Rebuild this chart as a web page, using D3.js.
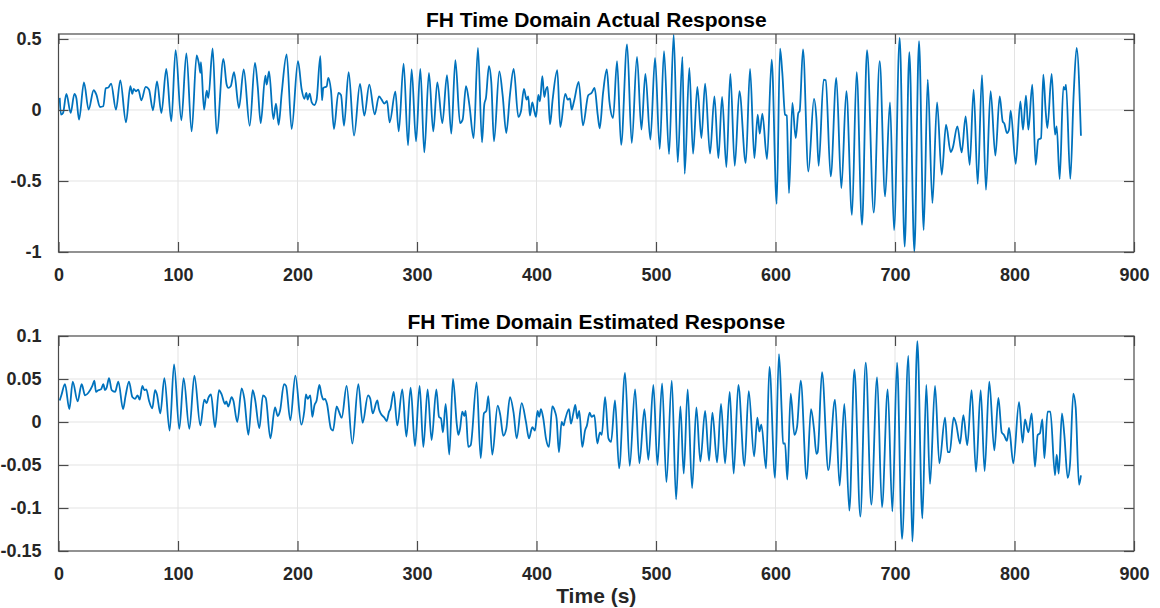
<!DOCTYPE html>
<html><head><meta charset="utf-8">
<script src="https://cdn.jsdelivr.net/npm/d3@7"></script>
<style>html,body{margin:0;padding:0;background:#fff;}svg{display:block;}</style>
</head><body>
<svg id="chart" width="1160" height="608"></svg>
<script>
// ---------- data ----------
const titles = ["FH Time Domain Actual Response", "FH Time Domain Estimated Response"];
const xLabel = "Time (s)";
const xTicks = [0,100,200,300,400,500,600,700,800,900];
const yTicksActual = [0.5,0,-0.5,-1];
const yTicksEstimated = [0.1,0.05,0,-0.05,-0.1,-0.15];
// [time (s), response]
const actual = [
[1.0,0.085],[2.1,-0.033],[3.8,-0.021],[6.6,0.113],[10.2,-0.021],[13.3,0.113],[14.9,0.085],[17.2,-0.068],[21.3,0.195],[25.2,0.002],[29.4,0.139],[31.7,0.108],[34.7,0.021],[37.5,0.026],[39.5,0.153],[41.7,0.158],[44.0,0.186],[48.1,0.002],[51.7,0.209],[56.5,-0.087],[60.1,0.167],[61.8,0.113],[62.9,0.148],[64.9,0.132],[66.8,0.144],[69.3,0.068],[73.0,0.162],[75.7,0.144],[79.1,-0.002],[82.4,0.202],[86.1,-0.021],[90.2,0.289],[94.4,-0.08],[98.0,0.421],[102.8,-0.073],[107.0,0.398],[111.4,-0.151],[115.6,0.384],[117.6,0.32],[118.7,0.261],[119.2,0.336],[121.8,0.002],[124.0,0.136],[125.4,0.085],[129.0,0.433],[132.4,-0.167],[138.0,0.36],[140.7,0.179],[142.1,0.155],[144.1,0.167],[146.9,0.266],
[151.0,0.014],[155.0,0.285],[160.0,-0.111],[164.4,0.332],[166.7,0.167],[169.2,-0.092],[173.1,0.242],[174.2,0.179],[176.2,0.271],[179.8,-0.064],[182.0,0.045],[184.2,-0.104],[186.8,0.12],[190.9,0.391],[195.1,-0.134],[200.4,0.344],[203.5,0.144],[205.7,0.078],[207.4,0.12],[208.5,0.073],[210.2,0.115],[211.9,0.054],[214.1,0.035],[216.0,0.073],[219.1,0.379],[220.5,0.068],[221.6,0.155],[224.4,0.167],[225.8,0.226],[228.0,0.139],[230.5,-0.134],[234.2,0.12],[236.4,0.106],[238.9,-0.111],[242.8,0.266],[247.3,-0.181],[252.3,0.184],[255.9,-0.04],[260.1,0.179],[264.6,-0.031],[268.2,0.096],[270.4,0.073],[272.7,0.045],[274.9,0.064],[277.1,-0.087],[281.9,0.129],[284.7,-0.151],[288.8,0.327],[292.5,-0.249],[295.5,0.285],[299.2,-0.221],
[302.8,0.289],[306.1,-0.299],[310.0,0.261],[313.6,-0.151],[317.0,0.195],[321.2,-0.092],[325.1,0.245],[328.7,-0.167],[332.1,0.351],[336.0,-0.092],[338.2,-0.068],[341.0,0.167],[343.8,0.038],[347.4,-0.198],[351.0,0.438],[354.4,-0.228],[356.3,0.038],[357.7,0.085],[360.2,0.308],[362.2,0.191],[364.4,-0.221],[368.9,0.271],[371.7,0.101],[374.7,-0.162],[377.8,0.108],[380.9,0.289],[384.8,-0.049],[387.0,-0.009],[389.5,0.148],[391.7,0.073],[393.1,0.096],[394.5,-0.04],[396.5,0.054],[398.2,-0.009],[399.6,-0.049],[401.5,0.106],[402.9,0.061],[404.9,0.238],[406.5,0.092],[407.9,0.144],[409.3,0.162],[411.3,-0.101],[413.5,0.073],[417.4,0.28],[419.9,-0.12],[424.1,0.113],[426.1,0.073],[428.0,0.082],[429.4,0.002],[431.4,0.061],[435.3,0.198],[438.9,-0.108],[443.3,0.104],[446.1,0.12],[448.6,0.155],[451.2,-0.033],
[452.9,-0.129],[455.7,0.12],[458.8,0.285],[461.0,0.061],[464.1,-0.056],[467.4,0.344],[470.8,-0.245],[475.8,0.461],[479.7,-0.233],[484.1,0.374],[487.8,-0.139],[491.1,0.254],[495.3,-0.209],[499.2,0.367],[503.1,-0.275],[506.7,0.414],[510.9,-0.311],[514.8,0.53],[518.2,-0.367],[522.1,0.374],[524.0,-0.449],[527.9,0.296],[531.0,-0.308],[534.6,0.162],[538.0,-0.198],[541.1,0.186],[545.2,-0.308],[548.9,0.096],[552.2,-0.339],[555.3,0.092],[558.9,-0.402],[562.2,0.254],[565.9,-0.393],[569.8,0.132],[575.1,-0.374],[578.7,0.289],[582.3,-0.339],[585.1,-0.033],[586.8,-0.167],[589.0,-0.026],[592.9,-0.346],[596.8,0.355],[601.0,-0.661],
[603.8,0.431],[605.7,0.261],[608.0,-0.033],[609.4,-0.04],[611.3,-0.586],[614.1,0.049],[616.9,-0.198],[619.1,-0.021],[620.2,-0.009],[623.0,0.426],[627.5,-0.433],[632.2,0.078],[634.2,-0.056],[636.1,-0.393],[640.3,0.214],[642.0,0.209],[646.2,-0.468],[650.9,0.226],[655.1,-0.551],[659.3,0.132],[664.0,-0.739],[667.9,0.266],[672.4,-0.809],[676.6,0.421],[682.2,-0.722],[687.2,0.344],[691.7,-0.609],[695.8,0.054],[699.2,-0.845],[703.9,0.508],[708.1,-0.962],[712.0,0.407],[716.2,-0.998],[720.1,0.485],[724.0,-0.845],[727.4,0.214],[731.3,-0.656],[735.2,0.054],[739.1,-0.456],[742.7,-0.104],[746.6,-0.296],[748.3,-0.268],[752.2,-0.115],
[755.8,-0.299],[759.1,-0.045],[762.5,-0.386],[765.8,0.144],[769.2,-0.52],[772.8,0.245],[776.1,-0.562],[780.0,0.132],[784.0,-0.322],[787.6,0.096],[790.1,-0.08],[791.5,-0.096],[793.7,-0.162],[795.4,-0.139],[796.8,-0.005],[801.0,-0.379],[804.9,0.061],[807.1,-0.139],[809.6,0.101],[811.6,-0.139],[814.9,0.179],[817.7,-0.386],[819.9,-0.209],[822.2,-0.198],[824.1,0.249],[826.1,-0.009],[827.5,-0.127],[831.1,0.254],[833.9,-0.174],[835.3,-0.115],[837.8,-0.487],[840.9,0.162],[842.2,0.144],[843.1,0.179],[846.7,-0.485],[849.5,0.108],[852.0,0.438],[855.6,-0.181]
];
const estimated = [
[1.0,0.025],[2.4,0.031],[5.4,0.044],[9.1,0.015],[11.9,0.047],[16.0,0.024],[19.4,0.044],[22.2,0.031],[25.0,0.034],[28.3,0.042],[30.0,0.048],[31.4,0.035],[33.3,0.037],[35.6,0.038],[37.5,0.044],[38.9,0.037],[40.3,0.04],[42.3,0.051],[44.5,0.037],[47.3,0.035],[50.1,0.047],[54.0,0.015],[56.2,0.031],[59.0,0.047],[61.8,0.029],[64.0,0.027],[66.2,0.031],[67.9,0.026],[70.2,0.042],[71.8,0.037],[73.5,0.038],[75.7,0.025],[78.5,0.016],[80.8,0.037],[82.4,0.032],[85.2,0.01],[88.6,0.051],[93.0,-0.01],[96.7,0.067],[101.1,-0.008],[104.7,0.051],[109.5,-0.008],[113.7,0.054],[118.7,-0.004],[122.0,0.026],[124.0,0.022],[125.4,0.028],[127.6,0.032],[131.0,-0.006],[134.3,0.037],[136.5,0.032],[139.3,0.021],[140.4,0.024],[142.1,0.018],[144.9,0.029],[146.3,0.025],[149.6,0.0],
[153.3,0.039],[155.5,0.027],[158.9,-0.015],[162.5,0.037],[164.4,0.027],[168.1,-0.007],[171.1,0.031],[173.4,0.028],[177.3,-0.019],[181.2,0.017],[183.4,0.007],[185.4,0.013],[188.7,0.044],[190.4,0.042],[194.0,0.002],[198.2,0.054],[203.2,-0.003],[205.7,0.013],[207.1,0.032],[208.5,0.027],[210.7,0.031],[212.4,0.006],[214.1,0.019],[216.0,0.025],[218.3,0.043],[220.2,0.031],[221.6,0.026],[223.0,0.027],[224.7,0.021],[228.0,-0.008],[229.7,-0.01],[232.8,0.018],[234.7,0.012],[237.0,0.005],[241.1,0.042],[245.9,-0.025],[250.9,0.044],[254.5,-0.001],[259.0,0.031],[260.9,0.027],[262.9,0.01],[266.8,0.025],[268.2,0.015],[269.6,0.01],[272.7,0.005],[274.6,0.001],[276.6,0.012],[277.7,0.015],[280.5,0.035],[283.5,-0.004],[287.7,0.038],[291.1,-0.017],[294.7,0.04],[298.3,-0.028],
[302.2,0.042],[305.3,-0.029],[308.9,0.038],[312.2,-0.021],[316.2,0.038],[318.4,0.006],[320.1,0.004],[321.7,-0.012],[324.0,0.021],[327.0,-0.038],[330.1,0.05],[333.4,-0.004],[334.6,-0.015],[336.0,-0.008],[337.9,0.012],[339.6,0.007],[340.7,0.013],[342.9,-0.029],[344.9,-0.027],[349.9,0.046],[353.3,-0.042],[356.0,0.01],[358.0,0.013],[359.7,0.03],[363.0,-0.038],[367.5,0.019],[369.7,0.008],[372.2,-0.016],[374.7,-0.008],[377.8,0.029],[380.9,0.01],[383.4,-0.019],[387.6,0.022],[391.2,0.0],[393.7,-0.019],[396.5,-0.006],[398.7,-0.01],[400.9,0.013],[402.3,0.006],[403.7,0.015],[405.7,0.004],[407.9,-0.019],[410.4,-0.029],[413.2,0.018],[415.5,0.012],[416.8,0.004],[418.8,-0.035],[421.0,0.0],[422.7,-0.004],[423.8,0.002],[427.2,0.015],[428.8,-0.002],[430.8,0.01],[432.5,0.02],[434.1,0.004],[435.8,0.013],[438.3,-0.029],[440.6,-0.01],[442.2,-0.004],[444.5,0.011],[446.1,0.006],[448.4,0.008],[450.9,-0.025],[453.1,-0.012],
[454.6,-0.015],[457.4,0.029],[460.2,-0.019],[462.4,-0.023],[465.7,0.025],[469.1,-0.054],[474.1,0.057],[478.0,-0.051],[482.5,0.038],[486.1,-0.048],[490.3,0.015],[493.6,-0.044],[497.8,0.043],[501.2,-0.05],[505.1,0.045],[508.7,-0.07],[513.2,0.048],[516.8,-0.09],[520.4,0.018],[523.2,-0.06],[526.5,0.038],[530.2,-0.077],[533.8,0.017],[537.1,-0.046],[541.1,0.013],[544.4,-0.045],[547.2,0.011],[551.1,-0.047],[554.4,0.021],[557.8,-0.048],[561.7,0.035],[565.0,-0.06],[568.9,0.043],[574.0,-0.051],[577.6,0.036],[582.1,-0.04],[584.8,0.005],[586.5,-0.011],[588.2,-0.003],[592.1,-0.054],[594.9,0.064],[599.6,-0.065],
[602.9,0.079],[605.2,0.012],[606.3,-0.025],[608.0,-0.025],[609.9,-0.067],[612.7,0.033],[615.8,-0.015],[618.0,-0.006],[621.1,0.048],[626.1,-0.066],[629.7,0.015],[632.2,-0.008],[634.2,-0.037],[635.3,-0.035],[638.9,0.058],[644.2,-0.056],[649.8,0.026],[653.7,-0.074],[657.6,0.021],[661.8,-0.103],[666.0,0.061],[671.0,-0.11],[675.5,0.069],[680.2,-0.096],[685.0,0.052],[689.1,-0.099],[693.9,0.038],[697.8,-0.104],[701.7,0.069],[705.9,-0.136],[711.2,0.077],[714.5,-0.139],[718.7,0.094],[722.9,-0.112],[726.2,0.043],[729.3,-0.072],[733.5,0.042],[737.1,-0.048],[741.9,0.005],[744.1,-0.035],[745.8,-0.035],[749.1,0.005],[751.1,-0.002],[754.4,-0.025],
[757.2,0.008],[760.5,-0.027],[764.1,0.037],[767.8,-0.058],[771.7,0.037],[775.0,-0.057],[778.9,0.047],[783.1,-0.033],[786.5,0.028],[789.3,-0.012],[791.2,-0.015],[793.7,-0.022],[795.4,-0.007],[799.0,-0.048],[803.8,0.023],[806.8,-0.024],[808.8,0.003],[811.6,-0.012],[814.4,0.01],[817.1,-0.052],[819.4,-0.015],[821.3,-0.013],[823.3,0.003],[825.0,-0.042],[827.7,0.012],[830.0,0.012],[833.9,-0.062],[835.3,-0.038],[837.0,-0.06],[839.7,0.01],[841.7,-0.015],[844.5,-0.065],[846.4,-0.05],[849.2,0.033],[851.2,0.017],[854.0,-0.073],[855.6,-0.062]
];

// ---------- drawing ----------
const svg = d3.select("#chart");
const FONT = "'Liberation Sans', Arial, Helvetica, sans-serif";
const lineColor = "#0072BD";
const axisColor = "#4a4a4a";
const gridColor = "#e3e3e3";
const left = 58.5, right = 1134;
const x = d3.scaleLinear().domain([0, 900]).range([left, right]);

const panels = [
  {title: titles[0], data: actual, yDomain: [-1, 0.535], yTicks: yTicksActual, top: 34, bottom: 252},
  {title: titles[1], data: estimated, yDomain: [-0.15, 0.1], yTicks: yTicksEstimated, top: 336, bottom: 551}
];

panels.forEach((p, i) => {
  const y = d3.scaleLinear().domain(p.yDomain).range([p.bottom, p.top]);
  const g = svg.append("g");
  const fmt = d => String(d);

  // grid
  g.append("g").selectAll("line").data(xTicks.slice(1, -1)).join("line")
    .attr("x1", d => x(d)).attr("x2", d => x(d)).attr("y1", p.top).attr("y2", p.bottom)
    .attr("stroke", gridColor).attr("stroke-width", 1);
  g.append("g").selectAll("line").data(p.yTicks.filter(d => y(d) > p.top + 0.5 && y(d) < p.bottom - 0.5)).join("line")
    .attr("x1", left).attr("x2", right).attr("y1", d => y(d)).attr("y2", d => y(d))
    .attr("stroke", gridColor).attr("stroke-width", 1);

  // series line
  const line = d3.line().x(d => x(d[0])).y(d => y(d[1])).curve(d3.curveMonotoneX);
  g.append("path").datum(p.data).attr("d", line)
    .attr("fill", "none").attr("stroke", lineColor).attr("stroke-width", 1.8)
    .attr("stroke-linejoin", "round");

  // axes with inward ticks on all sides
  const tl = 10;
  const axB = d3.axisBottom(x).tickValues(xTicks).tickSize(-tl).tickPadding(tl + 6).tickFormat(fmt);
  const axT = d3.axisTop(x).tickValues(xTicks).tickSize(-tl).tickFormat("");
  const axL = d3.axisLeft(y).tickValues(p.yTicks).tickSize(-tl).tickPadding(tl + 7).tickFormat(fmt);
  const axR = d3.axisRight(y).tickValues(p.yTicks).tickSize(-tl).tickFormat("");

  const styleAxis = sel => {
    sel.selectAll("path.domain").attr("stroke", axisColor).attr("stroke-width", 1.2);
    sel.selectAll(".tick line").attr("stroke", axisColor).attr("stroke-width", 1.2);
    sel.selectAll(".tick text").attr("fill", "#262626")
      .style("font-family", FONT).style("font-size", "18px").style("font-weight", "bold");
  };
  g.append("g").attr("transform", `translate(0,${p.bottom})`).call(axB).call(styleAxis);
  g.append("g").attr("transform", `translate(0,${p.top})`).call(axT).call(styleAxis);
  g.append("g").attr("transform", `translate(${left},0)`).call(axL).call(styleAxis);
  g.append("g").attr("transform", `translate(${right},0)`).call(axR).call(styleAxis);
  g.selectAll(".domain").attr("d", null);
  g.append("rect").attr("x", left).attr("y", p.top).attr("width", right - left).attr("height", p.bottom - p.top)
    .attr("fill", "none").attr("stroke", axisColor).attr("stroke-width", 1.2);

  // title
  g.append("text").attr("x", (left + right) / 2).attr("y", p.top - 7)
    .attr("text-anchor", "middle").attr("fill", "#000")
    .style("font-family", FONT).style("font-size", "21px").style("font-weight", "bold")
    .text(p.title);
});

svg.append("text").attr("x", (left + right) / 2).attr("y", 603)
  .attr("text-anchor", "middle").attr("fill", "#262626")
  .style("font-family", FONT).style("font-size", "21px").style("font-weight", "bold")
  .text(xLabel);
</script>
</body></html>
